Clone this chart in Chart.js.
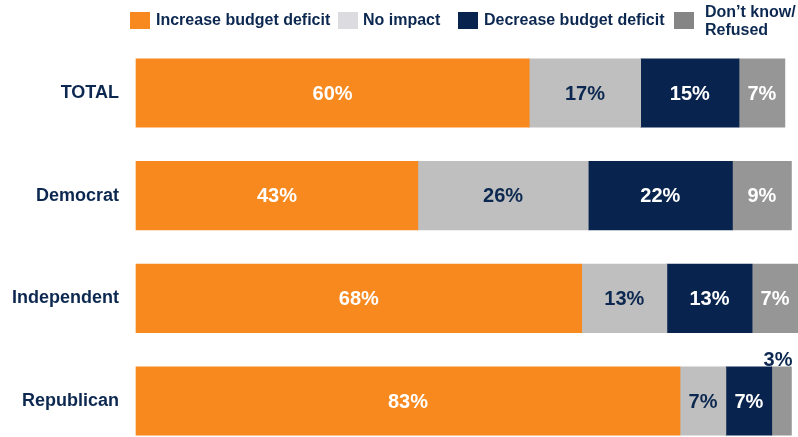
<!DOCTYPE html>
<html>
<head>
<meta charset="utf-8">
<script src="https://cdn.jsdelivr.net/npm/chart.js@4"></script>
<style>
  html, body { margin: 0; padding: 0; background: #ffffff; }
  #wrap { position: relative; width: 798px; height: 437px; }
</style>
</head>
<body>
<div id="wrap"><canvas id="chartBudget"></canvas></div>
<script>
// Dados do gráfico
const categories = ['TOTAL', 'Democrat', 'Independent', 'Republican'];
const seriesNames = ['Increase budget deficit', 'No impact', 'Decrease budget deficit', 'Don\u2019t know/\nRefused'];
const increaseDeficit = [60, 43, 68, 83];
const noImpact = [17, 26, 13, 7];
const decreaseDeficit = [15, 22, 13, 7];
const dontKnow = [7, 9, 7, 3];

// Cores
const NAVY = '#0c2850';
const BAR_COLORS = ['#f7891f', '#bfbfbf', '#08234d', '#969696'];
const LEGEND_COLORS = ['#f7891f', '#dcdce0', '#08234d', '#858585'];
const LABEL_COLORS = ['#ffffff', NAVY, '#ffffff', '#ffffff'];
const FONT = "'Liberation Sans', Arial, sans-serif";

/**
 * Legenda desenhada no topo do canvas
 */
const legendPlugin = {
  id: 'topLegend',
  afterDraw(chart) {
    const ctx = chart.ctx;
    const items = [
      { sw: 130, tx: 156 },
      { sw: 338, tx: 363 },
      { sw: 458, tx: 484 },
      { sw: 674, tx: 705 }
    ];
    ctx.save();
    ctx.font = 'bold 16px ' + FONT;
    ctx.fillStyle = NAVY;
    ctx.textBaseline = 'middle';
    ctx.textAlign = 'left';
    items.forEach(function(it, i) {
      ctx.fillStyle = LEGEND_COLORS[i];
      ctx.fillRect(it.sw, 12, 20, 17);
      ctx.fillStyle = NAVY;
      const lines = seriesNames[i].split('\n');
      if (lines.length === 1) {
        ctx.fillText(lines[0], it.tx, 21);
      } else {
        ctx.fillText(lines[0], it.tx, 13);
        ctx.fillText(lines[1], it.tx, 31);
      }
    });
    ctx.restore();
  }
};

/**
 * Rótulos de valor nas barras
 */
const valueLabels = {
  id: 'valueLabels',
  afterDatasetsDraw(chart) {
    const ctx = chart.ctx;
    ctx.save();
    ctx.font = 'bold 20px ' + FONT;
    chart.data.datasets.forEach(function(ds, di) {
      const meta = chart.getDatasetMeta(di);
      meta.data.forEach(function(bar, i) {
        const v = ds.data[i];
        const left = Math.min(bar.x, bar.base);
        const right = Math.max(bar.x, bar.base);
        const txt = v + '%';
        if (right - left < 25) {
          // segmento pequeno: rótulo acima da barra
          ctx.fillStyle = NAVY;
          ctx.textAlign = 'right';
          ctx.textBaseline = 'alphabetic';
          ctx.fillText(txt, right + 1, bar.y - bar.height / 2 - 0.5);
        } else {
          ctx.fillStyle = LABEL_COLORS[di];
          ctx.textAlign = 'center';
          ctx.textBaseline = 'middle';
          ctx.fillText(txt, (left + right) / 2, bar.y + 1);
        }
      });
    });
    ctx.restore();
  }
};

const seriesData = [increaseDeficit, noImpact, decreaseDeficit, dontKnow];

new Chart(document.getElementById('chartBudget'), {
  type: 'bar',
  data: {
    labels: categories,
    datasets: seriesData.map(function(d, i) {
      return {
        label: seriesNames[i],
        data: d,
        backgroundColor: BAR_COLORS[i],
        borderWidth: 0,
        barThickness: 68.5,
        clip: false
      };
    })
  },
  options: {
    indexAxis: 'y',
    responsive: true,
    maintainAspectRatio: false,
    animation: false,
    devicePixelRatio: 1,
    layout: { padding: { top: 93, bottom: 36, left: 0, right: 0 } },
    plugins: {
      legend: { display: false },
      tooltip: { enabled: false }
    },
    scales: {
      x: {
        stacked: true,
        min: 0,
        max: 101,
        display: false
      },
      y: {
        stacked: true,
        offset: false,
        grid: { display: false },
        border: { display: false },
        afterFit: function(scale) { scale.width = 136; },
        ticks: {
          color: NAVY,
          padding: 9,
          font: { family: FONT, size: 18, weight: 'bold' }
        }
      }
    }
  },
  plugins: [legendPlugin, valueLabels]
});
</script>
</body>
</html>
